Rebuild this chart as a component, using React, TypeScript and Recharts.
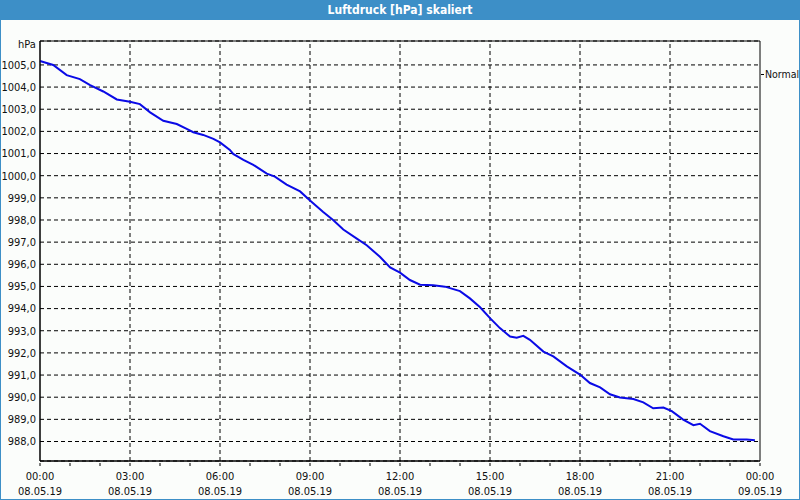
import React from 'react';
import {
  LineChart,
  Line,
  XAxis,
  YAxis,
  CartesianGrid,
  ReferenceLine,
  ReferenceArea
} from 'recharts';

const hours = [
  0, 0.44, 0.89, 1.33, 1.67, 2.11, 2.56, 3, 3.33, 3.67, 4.11, 4.56, 4.89, 5.11, 5.44, 5.78,
  6, 6.33, 6.44, 6.78, 7.11, 7.56, 7.83, 8.22, 8.67, 9, 9.44, 9.78, 10.11, 10.56, 10.89,
  11.33, 11.67, 12, 12.33, 12.67, 13.11, 13.5, 14, 14.33, 14.67, 15, 15.33, 15.67, 15.89,
  16.11, 16.33, 16.78, 17.11, 17.56, 18, 18.33, 18.67, 19, 19.33, 19.78, 20.11, 20.44,
  20.78, 21.06, 21.44, 21.78, 22, 22.33, 22.78, 23.11, 23.56, 23.83
];

const pressure = [
  1005.18, 1005.0, 1004.54, 1004.36, 1004.09, 1003.8, 1003.44, 1003.34, 1003.23, 1002.86,
  1002.48, 1002.33, 1002.11, 1001.96, 1001.84, 1001.66, 1001.5, 1001.16, 1000.98, 1000.71,
  1000.49, 1000.09, 999.96, 999.6, 999.29, 998.88, 998.36, 997.99, 997.57, 997.16, 996.86,
  996.34, 995.86, 995.62, 995.29, 995.08, 995.05, 994.99, 994.79, 994.46, 994.06, 993.57,
  993.12, 992.74, 992.69, 992.77, 992.59, 992.06, 991.84, 991.39, 991.02, 990.64, 990.44,
  990.13, 989.99, 989.92, 989.77, 989.5, 989.53, 989.37, 988.99, 988.74, 988.8, 988.47,
  988.24, 988.09, 988.09, 988.06
];

const hourTicks = [0, 1, 2, 3, 4, 5, 6, 7, 8, 9, 10, 11, 12, 13, 14, 15, 16, 17, 18, 19, 20, 21, 22, 23, 24];
const gridHours = [3, 6, 9, 12, 15, 18, 21];
const timeLabels: Record<number, [string, string]> = {
  0: ['00:00', '08.05.19'],
  3: ['03:00', '08.05.19'],
  6: ['06:00', '08.05.19'],
  9: ['09:00', '08.05.19'],
  12: ['12:00', '08.05.19'],
  15: ['15:00', '08.05.19'],
  18: ['18:00', '08.05.19'],
  21: ['21:00', '08.05.19'],
  24: ['00:00', '09.05.19']
};
const pressureTicks = [988, 989, 990, 991, 992, 993, 994, 995, 996, 997, 998, 999, 1000, 1001, 1002, 1003, 1004, 1005];

const data = hours.map((h, i) => ({ h, p: pressure[i] }));

const FONT = 'Tahoma, "DejaVu Sans Condensed", "Liberation Sans", sans-serif';
const BLUE = '#3d8fc7';

// tick marks every hour, labels every 3 hours
const TimeTick = (props: any) => {
  const { x, y, payload } = props;
  const lbl = timeLabels[payload.value];
  const ay = y - 6;
  return (
    <g>
      <line x1={x} y1={ay} x2={x} y2={ay + 3} stroke="#000" />
      {lbl && (
        <text x={x} y={ay} textAnchor="middle" fontFamily={FONT} fontSize={11} fill="#111">
          <tspan x={x} dy={17}>{lbl[0]}</tspan>
          <tspan x={x} dy={15}>{lbl[1]}</tspan>
        </text>
      )}
    </g>
  );
};

export default function App() {
  return (
    <div
      style={{
        position: 'fixed',
        top: 0,
        left: 0,
        width: 800,
        height: 500,
        boxSizing: 'border-box',
        border: `1px solid ${BLUE}`,
        background: '#fbfdfb',
        overflow: 'hidden'
      }}
    >
      <div
        style={{
          height: 19,
          background: BLUE,
          color: '#fff',
          fontFamily: FONT,
          fontWeight: 'bold',
          fontSize: 12,
          textAlign: 'center',
          lineHeight: '19px'
        }}
      >
        Luftdruck [hPa] skaliert
      </div>
      <div
        style={{ position: 'absolute', left: 17, top: 37, fontFamily: FONT, fontSize: 11, color: '#111' }}
      >
        hPa
      </div>
      <div
        style={{
          position: 'absolute',
          left: 760,
          top: 67,
          fontFamily: FONT,
          fontSize: 10.5,
          color: '#111',
          display: 'flex',
          alignItems: 'center',
          whiteSpace: 'nowrap'
        }}
      >
        <span style={{ display: 'inline-block', width: 3, height: 1, background: '#000', marginRight: 1 }} />
        Normal
      </div>
      <div style={{ position: 'absolute', left: -1, top: 19 }}>
        <LineChart width={800} height={480} data={data} margin={{ top: 21, right: 40, left: 0, bottom: 0 }}>
          <CartesianGrid vertical={false} stroke="#000" strokeDasharray="4 3" />
          {gridHours.map((g) => (
            <ReferenceLine key={g} x={g} stroke="#000" strokeDasharray="4 3" />
          ))}
          <XAxis
            dataKey="h"
            type="number"
            domain={[0, 24]}
            ticks={hourTicks}
            interval={0}
            height={39}
            axisLine={{ stroke: '#000' }}
            tickLine={false}
            tick={<TimeTick />}
          />
          <YAxis
            type="number"
            domain={[987.12, 1006.08]}
            ticks={pressureTicks}
            interval={0}
            width={40}
            axisLine={{ stroke: '#000' }}
            tickLine={false}
            tickSize={0}
            tickMargin={4}
            tickFormatter={(v: number) => v.toFixed(1).replace('.', ',')}
            tick={{ fontFamily: FONT, fontSize: 11, fill: '#111' }}
          />
          <ReferenceArea x1={0} x2={24} y1={987.12} y2={1006.08} fill="none" stroke="#000" strokeWidth={1} />
          <Line
            type="linear"
            dataKey="p"
            name="Normal"
            stroke="#0a0ae6"
            strokeWidth={2}
            dot={false}
            isAnimationActive={false}
          />
        </LineChart>
      </div>
    </div>
  );
}
